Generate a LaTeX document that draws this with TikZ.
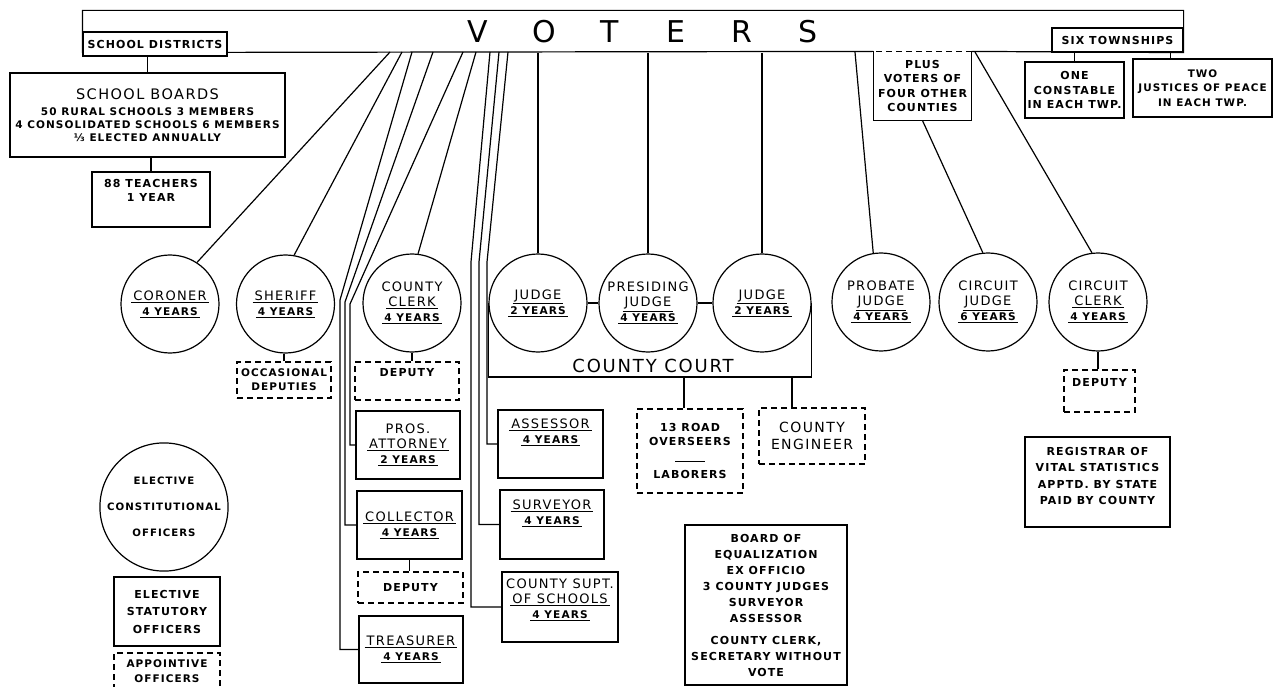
\documentclass[tikz,border=0pt]{standalone}
\usepackage{fontspec}
\setmainfont{DejaVu Sans}[LetterSpace=10]

\newcommand\uln[1]{\underline{\hspace{2pt}#1\hspace{2pt}}}
\newcommand\termfont{\bfseries\fontsize{10.6}{12}\selectfont}
\newcommand\yrs[1]{{\termfont\uln{#1 YEARS}}}

\begin{document}
\begin{tikzpicture}
        [x=1pt, y=-1pt,
         line width=1.2pt,
         every node/.style={
             inner sep=0pt,
             align=center
         },
         sz/.style 2 args={minimum width=#1pt, minimum height=#2pt},
         office/.style={circle, draw, minimum size=98pt,
             font=\fontsize{13}{15}\selectfont},
         post/.style={rectangle, draw,
             font=\fontsize{13}{15}\selectfont},
         note/.style={rectangle, draw,
             font=\bfseries\fontsize{11}{14.5}\selectfont},
         apptd/.style={note, dash pattern=on 6pt off 4pt}
         ]
        \useasboundingbox (0,0) rectangle (1275,687);

        % voters bar
        \node[sz={1100}{41}] (voters) at (633,31.5) {};
        \node[font=\fontsize{30}{30}\selectfont] (vlabel) at (643,32)
            {\makebox[66pt]{V}\makebox[66pt]{O}\makebox[66pt]{T}\makebox[66pt]{E}\makebox[66pt]{R}\makebox[66pt]{S}};
        \node[note, sz={97}{68}, draw=none] (plus) at (922.5,86)
            {PLUS\\VOTERS OF\\FOUR OTHER\\COUNTIES};
        \draw (plus.north west) -- (voters.south west) -- (voters.north west)
            -- (voters.north east) -- (voters.south east) -- (plus.north east);
        \draw[dash pattern=on 6pt off 4pt] (plus.north east) -- (plus.north west);
        \draw (plus.north west) -- (plus.south west) -- (plus.south east) -- (plus.north east);
        \node[note, sz={144}{24}, fill=white] (sdist) at (155,44) {SCHOOL DISTRICTS};
        \node[note, sz={131}{24}] (township) at (1117.5,40) {SIX TOWNSHIPS};

        % schools and townships
        \node[note, sz={275}{84}, font=\bfseries\fontsize{10.5}{13}\selectfont] (boards) at (147.5,115)
            {{\mdseries\fontsize{14.5}{16}\selectfont SCHOOL BOARDS}\\[3pt]
             50 RURAL SCHOOLS 3 MEMBERS\\4 CONSOLIDATED SCHOOLS 6 MEMBERS\\⅓ ELECTED ANNUALLY};
        \node[note, sz={118}{55}] (teachers) at (151,199.5) {88 TEACHERS\\1 YEAR\\[4pt]~};
        \node[note, sz={99}{56}] (constable) at (1074.5,90) {ONE\\CONSTABLE\\IN EACH TWP.};
        \node[note, sz={139}{58}, font=\bfseries\fontsize{10.4}{14.5}\selectfont] (justices) at (1202.5,88)
            {TWO\\JUSTICES OF PEACE\\IN EACH TWP.};
        \draw (boards.north) -- (boards.north |- sdist.south);
        \draw (teachers.north) -- (teachers.north |- boards.south);
        \draw (constable.north) -- (constable.north |- township.south);
        \draw ([xshift=-32pt]justices.north) -- ([xshift=-32pt]justices.north |- township.south);

        % elective officers
        \node[office] (coroner) at (170,304) {\uln{CORONER}\\\yrs{4}};
        \node[office] (sheriff) at (285.5,304) {\uln{SHERIFF}\\\yrs{4}};
        \node[office] (clerk) at (412,303) {COUNTY\\\uln{CLERK}\\\yrs{4}};
        \node[office] (judgeA) at (538,303) {\uln{JUDGE}\\\yrs{2}};
        \node[office] (presiding) at (648,303) {PRESIDING\\\uln{JUDGE}\\\yrs{4}};
        \node[office] (judgeB) at (762,303) {\uln{JUDGE}\\\yrs{2}};
        \node[office] (probate) at (881,302) {PROBATE\\\uln{JUDGE}\\\yrs{4}};
        \node[office] (cjudge) at (988,302) {CIRCUIT\\\uln{JUDGE}\\\yrs{6}};
        \node[office] (cclerk) at (1098,302) {CIRCUIT\\\uln{CLERK}\\\yrs{4}};

        \node[post, sz={104}{68}] (pros) at (408,445) {PROS.\\\uln{ATTORNEY}\\\yrs{2}};
        \node[post, sz={105}{68}] (collector) at (409.5,525) {\uln{COLLECTOR}\\\yrs{4}};
        \node[post, sz={104}{67}] (treasurer) at (411,649.5) {\uln{TREASURER}\\\yrs{4}};
        \node[post, sz={105}{68}] (assessor) at (550.5,444) {\uln{ASSESSOR}\\\yrs{4}\\[10pt]~};
        \node[post, sz={104}{69}] (surveyor) at (552,524.5) {\uln{SURVEYOR}\\\yrs{4}\\[10pt]~};
        \node[post, sz={116}{70}] (supt) at (560,607) {COUNTY SUPT.\\\uln{OF SCHOOLS}\\\yrs{4}\\[2pt]~};

        % deputies and appointees
        \node[apptd, sz={94}{36}, font=\bfseries\fontsize{10.5}{14}\selectfont] (occdep) at (284,380) {OCCASIONAL\\DEPUTIES};
        \node[apptd, sz={104}{38}] (clerkdep) at (407,381) {DEPUTY\\[2pt]~};
        \node[apptd, sz={105}{31}] (colldep) at (410.5,587.5) {DEPUTY};
        \node[apptd, sz={71}{42}] (ccdep) at (1099.5,391) {DEPUTY\\[2pt]~};
        \node[apptd, sz={106}{84}] (road) at (690,451)
            {13 ROAD\\OVERSEERS\\[2pt]\rule{30pt}{1pt}\\[2pt]LABORERS};
        \node[apptd, sz={106}{56}, font=\fontsize{14}{17}\selectfont] (engineer) at (812,436) {COUNTY\\ENGINEER};
        \node[note, sz={162}{160}, font=\bfseries\fontsize{11}{16}\selectfont] (board) at (766,605)
            {BOARD OF\\EQUALIZATION\\EX OFFICIO\\3 COUNTY JUDGES\\SURVEYOR\\ASSESSOR\\[6pt]
             COUNTY CLERK,\\SECRETARY WITHOUT\\VOTE};
        \node[note, sz={145}{90}, font=\bfseries\fontsize{11}{16.5}\selectfont] (registrar) at (1097.5,482)
            {REGISTRAR OF\\VITAL STATISTICS\\APPTD. BY STATE\\PAID BY COUNTY\\[-4pt]~};

        % county court
        \node[font=\fontsize{18}{18}\selectfont] (court) at (653,366) {COUNTY COURT};
        \coordinate (courtbase) at (650,377);
        \draw (judgeA.west) |- (courtbase) -| (judgeB.east);
        \draw (judgeA.east) -- (presiding.west);
        \draw (presiding.east) -- (judgeB.west);
        \coordinate (roadtop) at ([xshift=-6pt]road.north);
        \coordinate (engtop) at ([xshift=-20pt]engineer.north);
        \draw (roadtop) -- (roadtop |- courtbase);
        \draw (engtop) -- (engtop |- courtbase);

        % lines from the voters
        \foreach \n/\x in {cor/390, she/402, tre/412, col/433, pro/463, cle/476,
                           sup/490, sur/499, ass/508, pbj/855, ccl/975}
            \coordinate (v-\n) at (\x,52);
        \draw (v-cor) -- (coroner.57);
        \draw (v-she) -- (sheriff.80);
        \draw (v-cle) -- (clerk.83);
        \draw (v-tre) -- (340,300) |- (treasurer.west);
        \draw (v-col) -- (345,302) |- (collector.west);
        \draw (v-pro) -- (350,304) |- (pros.west);
        \draw (v-sup) -- (471,262) |- (supt.west);
        \draw (v-sur) -- (479,262) |- (surveyor.west);
        \draw (v-ass) -- (487,262) |- (assessor.west);
        \foreach \j in {judgeA, presiding, judgeB}
            \draw (\j.north) -- (\j.north |- voters.south);
        \draw (v-pbj) -- (probate.99);
        \draw (plus.south) -- (cjudge.96);
        \draw (v-ccl) -- (cclerk.97);
        \draw (occdep.north) -- (occdep.north |- sheriff.south);
        \draw (clerk.south) -- (clerk.south |- clerkdep.north);
        \draw (collector.south) -- (collector.south |- colldep.north);
        \draw (cclerk.south) -- (cclerk.south |- ccdep.north);

        % legend
        \node[circle, draw, minimum size=120pt, font=\bfseries\fontsize{10.2}{26}\selectfont] (elcon) at (164,507)
            {ELECTIVE\\CONSTITUTIONAL\\OFFICERS};
        \node[note, sz={106}{69}, font=\bfseries\fontsize{11}{17.5}\selectfont] (elstat) at (167,611.5)
            {ELECTIVE\\STATUTORY\\OFFICERS};
        \node[apptd, sz={106}{37}, font=\bfseries\fontsize{10.5}{15}\selectfont] (appt) at (167,671.5) {APPOINTIVE\\OFFICERS};
    \end{tikzpicture}
\end{document}
